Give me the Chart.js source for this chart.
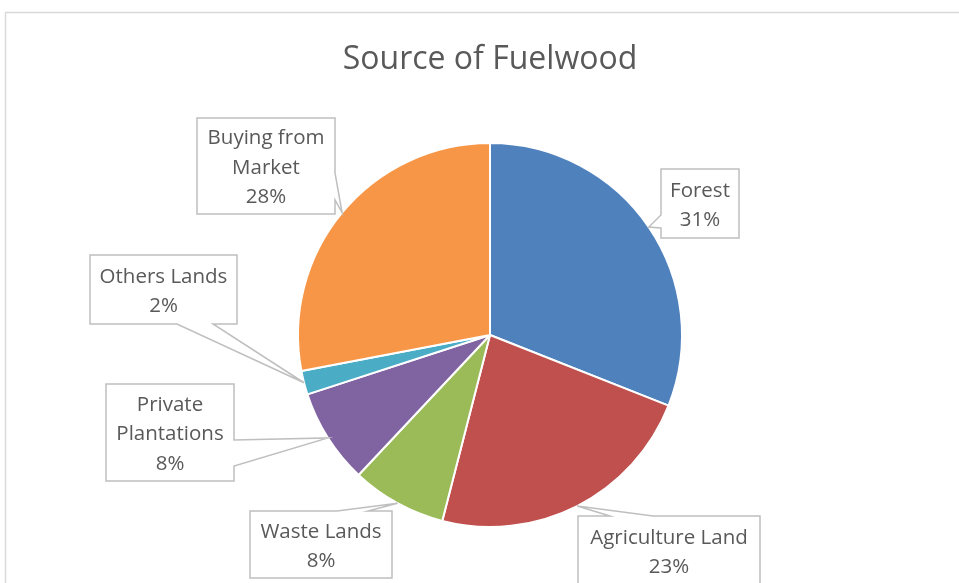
<!DOCTYPE html>
<html>
<head>
<meta charset="utf-8">
<script src="https://cdn.jsdelivr.net/npm/chart.js@4.4.1/dist/chart.umd.min.js"></script>
<style>
  html, body { margin: 0; padding: 0; background: #ffffff; }
  #wrap { position: relative; width: 959px; height: 583px; }
</style>
</head>
<body>
<div id="wrap"><canvas id="c" width="959" height="583"></canvas></div>
<script>
// ---- data ----
const categories = ["Forest", "Agriculture Land", "Waste Lands", "Private Plantations", "Others Lands", "Buying from Market"];
const labelLines = [["Forest"], ["Agriculture Land"], ["Waste Lands"], ["Private", "Plantations"], ["Others Lands"], ["Buying from", "Market"]];
const shares = [31, 23, 8, 8, 2, 28];
const sliceColors = ["#4F81BD", "#C0504D", "#9BBB59", "#8064A2", "#4BACC6", "#F79646"];
const chartTitle = "Source of Fuelwood";

// ---- callout layout (box rect and wedge base on one side) ----
const callouts = [
  { x1: 661, y1: 169, x2: 739, y2: 238, side: "left",   a: 215, b: 228 },
  { x1: 578, y1: 516, x2: 760, y2: 585, side: "top",    a: 610, b: 653 },
  { x1: 250, y1: 511, x2: 392, y2: 578, side: "top",    a: 337, b: 368 },
  { x1: 106, y1: 384, x2: 234, y2: 481, side: "right",  a: 440, b: 466 },
  { x1: 90,  y1: 255, x2: 237, y2: 324, side: "bottom", a: 177, b: 213 },
  { x1: 197, y1: 118, x2: 335, y2: 214, side: "right",  a: 173, b: 200 }
];

const labelFont = '20.5px "Open Sans", "DejaVu Sans", sans-serif';
const textColor = "#595959";
const lineColor = "#BFBFBF";

const framePlugin = {
  id: "frame",
  beforeDraw(chart) {
    const ctx = chart.ctx;
    ctx.save();
    ctx.strokeStyle = "#D9D9D9";
    ctx.lineWidth = 1.5;
    ctx.beginPath();
    ctx.moveTo(5.5, 583);
    ctx.lineTo(5.5, 12.5);
    ctx.lineTo(959, 12.5);
    ctx.stroke();
    ctx.restore();
  }
};

const calloutPlugin = {
  id: "callouts",
  afterDatasetsDraw(chart) {
    const ctx = chart.ctx;
    const meta = chart.getDatasetMeta(0);
    const total = shares.reduce((s, v) => s + v, 0);
    ctx.save();
    meta.data.forEach((arc, i) => {
      const c = callouts[i];
      const mid = (arc.startAngle + arc.endAngle) / 2;
      const tx = arc.x + Math.cos(mid) * arc.outerRadius;
      const ty = arc.y + Math.sin(mid) * arc.outerRadius;
      const pts = [];
      const TL = [c.x1, c.y1], TR = [c.x2, c.y1], BR = [c.x2, c.y2], BL = [c.x1, c.y2];
      pts.push(TL);
      if (c.side === "top") { pts.push([c.a, c.y1], [tx, ty], [c.b, c.y1]); }
      pts.push(TR);
      if (c.side === "right") { pts.push([c.x2, c.a], [tx, ty], [c.x2, c.b]); }
      pts.push(BR);
      if (c.side === "bottom") { pts.push([c.b, c.y2], [tx, ty], [c.a, c.y2]); }
      pts.push(BL);
      if (c.side === "left") { pts.push([c.x1, c.b], [tx, ty], [c.x1, c.a]); }
      ctx.beginPath();
      pts.forEach((p, k) => k === 0 ? ctx.moveTo(p[0], p[1]) : ctx.lineTo(p[0], p[1]));
      ctx.closePath();
      ctx.fillStyle = "#ffffff";
      ctx.fill();
      ctx.strokeStyle = lineColor;
      ctx.lineWidth = 1.5;
      ctx.lineJoin = "miter";
      ctx.stroke();

      const lines = labelLines[i].concat([Math.round(shares[i] / total * 100) + "%"]);
      const lh = 29.5;
      const cxT = (c.x1 + c.x2) / 2;
      const boxH = c.y2 - c.y1;
      const startY = c.y1 + boxH / 2 - (lines.length - 1) * lh / 2 + 2;
      ctx.fillStyle = textColor;
      ctx.font = labelFont;
      ctx.textAlign = "center";
      ctx.textBaseline = "middle";
      lines.forEach((t, k) => ctx.fillText(t, cxT, startY + k * lh));
    });
    ctx.restore();
  }
};

new Chart(document.getElementById("c"), {
  type: "pie",
  data: {
    labels: categories,
    datasets: [{
      data: shares,
      backgroundColor: sliceColors,
      borderColor: "#ffffff",
      borderWidth: 2
    }]
  },
  options: {
    responsive: false,
    animation: false,
    layout: { padding: { left: 297, right: 276, top: 0, bottom: 55 } },
    plugins: {
      legend: { display: false },
      tooltip: { enabled: false },
      title: {
        display: true,
        text: chartTitle,
        color: textColor,
        font: { family: '"Open Sans", "DejaVu Sans", sans-serif', size: 32, weight: "normal", lineHeight: 1.2 },
        padding: { top: 40.3, bottom: 63.3 }
      }
    }
  },
  plugins: [framePlugin, calloutPlugin]
});
</script>
</body>
</html>
